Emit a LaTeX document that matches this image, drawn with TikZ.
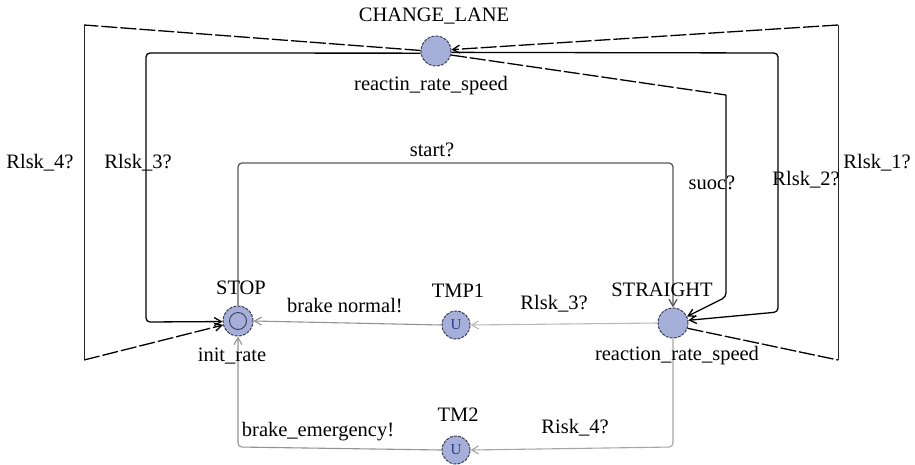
\documentclass[tikz,border=0pt]{standalone}
\usepackage{fontspec}
\setmainfont{Liberation Serif}
\usetikzlibrary{arrows.meta}
\definecolor{locf}{HTML}{A5AFD9}
\definecolor{locb}{HTML}{3A3F55}
\definecolor{ublue}{HTML}{2A3A8A}
\begin{document}
\begin{tikzpicture}[x=1pt,y=-1pt,
  loc/.style={circle, draw=locb, fill=locf, minimum size=30pt, inner sep=0pt, line width=1pt, dash pattern=on 3pt off 1.2pt},
  lbl/.style={font=\fontsize{20.5}{24}\selectfont, inner sep=0pt},
  edge/.style={line width=1.3pt, draw=black, rounded corners=4pt},
  thin edge/.style={line width=0.9pt, draw=black!85},
  gedge/.style={line width=1.1pt, draw=gray!70, rounded corners=4pt},
  dsh/.style={dash pattern=on 16pt off 3pt},
  tip/.style={-{Straight Barb[length=7pt,width=8pt]}}]
\useasboundingbox[fill=white] (0,0) rectangle (915,464);
% locations
\node[loc] (CL) at (436,51) {};
\node[loc] (STOP) at (238,321) {};
\node[circle, draw=locb, minimum size=17pt, inner sep=0pt, line width=0.9pt] (STOPin) at (STOP) {};
\node[loc, minimum size=28pt] (TMP1) at (456,325) {\fontsize{15}{15}\selectfont\color{ublue}U};
\node[loc, minimum size=28pt] (TM2) at (456,450) {\fontsize{15}{15}\selectfont\color{ublue}U};
\node[loc] (STR) at (673,323) {};
% corner coordinates
\coordinate (a1) at (84,25);
\coordinate (a2) at (84,360);
\coordinate (b1) at (146,53);
\coordinate (b2) at (146,322);
\coordinate (s1) at (238,163);
\coordinate (s2) at (673,163);
\coordinate (u1) at (726,95);
\coordinate (u2) at (726,297);
\coordinate (r1) at (778,53);
\coordinate (r2) at (778,312);
\coordinate (q1) at (838,25);
\coordinate (q2) at (838,360);
\coordinate (m1) at (673,447);
\coordinate (e1) at (238,447);
% Rlsk_4? (outer left)
\draw[edge,dsh] (CL.178) -- (a1);
\draw[thin edge] (a1) -- (a2);
\draw[edge,dsh,tip] (a2) -- (STOP.195);
% Rlsk_3? (inner left)
\draw[edge,tip] (CL.188) -- (b1) -- (b2) -- (STOP.182);
% start?
\draw[edge,draw=black!65,tip] (STOP.north) -- (s1) -- (s2) -- (STR.north);
% suoc?
\draw[edge,dsh] (CL.345) -- (u1);
\draw[edge,tip] (u1) -- (u2) -- (STR.25);
% Rlsk_2?
\draw[edge,tip] (CL.355) -- (r1) -- (r2) -- (STR.10);
% Rlsk_1? (outer right)
\draw[edge,dsh] (STR.340) -- (q2);
\draw[thin edge] (q2) -- (q1);
\draw[edge,dsh,tip] (q1) -- (CL.5);
% lower edges
\draw[gedge,draw=gray!55,tip] (STR.west) -- (TMP1.east);
\draw[gedge,draw=gray!85,tip] (TMP1.west) -- (STOP.east);
\draw[gedge,tip] (STR.south) -- (m1) -- (TM2.east);
\draw[gedge,draw=gray!85,tip] (TM2.west) -- (e1) -- (STOP.south);
% labels
\node[lbl] (tCL) at (434,16) {CHANGE\_LANE};
\node[lbl] (iCL) at (431,86) {reactin\_rate\_speed};
\node[lbl] (l4) at (40,163) {Rlsk\_4?};
\node[lbl] (l3) at (138,163) {Rlsk\_3?};
\node[lbl] (lst) at (432,150) {start?};
\node[lbl] (lsu) at (712,183) {suoc?};
\node[lbl] (l2) at (806,180) {Rlsk\_2?};
\node[lbl] (l1) at (877,163) {Rlsk\_1?};
\node[lbl] (tSTOP) at (241,288) {STOP};
\node[lbl] (iSTOP) at (232,356) {init\_rate};
\node[lbl] (lbn) at (345,306) {brake normal!};
\node[lbl] (tTMP1) at (458,291) {TMP1};
\node[lbl] (l3b) at (554,304) {Rlsk\_3?};
\node[lbl] (tSTR) at (662,290) {STRAIGHT};
\node[lbl] (iSTR) at (677,356) {reaction\_rate\_speed};
\node[lbl] (tTM2) at (458,415) {TM2};
\node[lbl] (lr4) at (575,428) {Risk\_4?};
\node[lbl] (lbe) at (318,432) {brake\_emergency!};
\end{tikzpicture}
\end{document}
